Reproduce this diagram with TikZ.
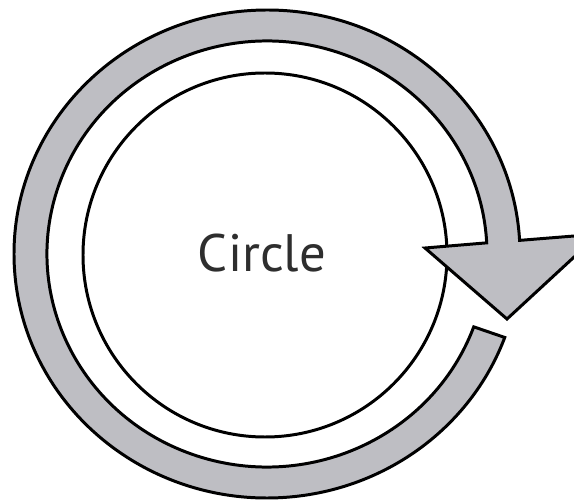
\documentclass[tikz,border=0pt]{standalone}
\usepackage{fontspec}
\setmainfont{PT Sans}
\usepackage{tikz}
\definecolor{cycgray}{HTML}{BEBEC3}
\definecolor{cyctext}{HTML}{2E2E2E}
\tikzset{
  cycline/.style={line width=1.7pt, line join=miter},
}
\begin{document}
\begin{tikzpicture}[x=0.02cm, y=0.02cm]
  % Frame
  \useasboundingbox (-267,-249) rectangle (307,254);
  \clip (-267,-249) rectangle (307,254);

  % Inner circle
  \draw[cycline] (-2,-1) circle[radius=182];

  % Band with arrow head
  \filldraw[cycline, fill=cycgray]
    (-20:220 and 213) arc[start angle=-20, end angle=-357, x radius=220, y radius=213]
    -- (158,6) -- (240,-65) -- (332,20)
    -- (3.2:253 and 244) arc[start angle=3.2, end angle=340, x radius=253, y radius=244]
    -- cycle;

  % Label
  \node[font=\fontsize{30}{36}\selectfont, text=cyctext] (circlename) at (-5,1) {Circle};
\end{tikzpicture}
\end{document}
